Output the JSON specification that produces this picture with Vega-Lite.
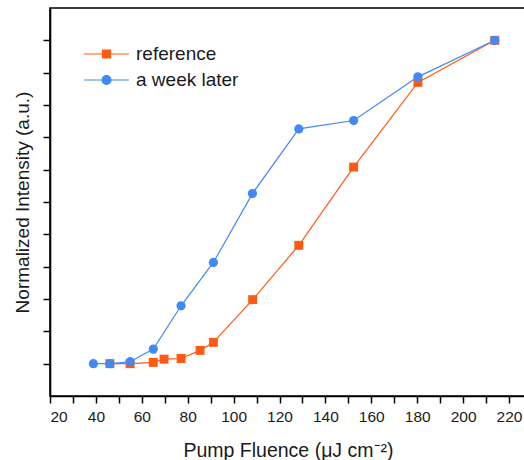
{
  "$schema": "https://vega.github.io/schema/vega-lite/v6.json",
  "autosize": "none",
  "width": 476,
  "height": 388,
  "padding": {"left": 50, "top": 8, "right": 0, "bottom": 64},
  "background": "white",
  "config": {
    "view": {"stroke": "black", "strokeWidth": 1.6},
    "font": "Liberation Sans"
  },
  "data": {
    "values": [
      {"fluence": 46.1, "intensity": 0.0, "series": "reference"},
      {"fluence": 54.9, "intensity": 0.0, "series": "reference"},
      {"fluence": 65.0, "intensity": 0.004, "series": "reference"},
      {"fluence": 69.7, "intensity": 0.014, "series": "reference"},
      {"fluence": 77.1, "intensity": 0.016, "series": "reference"},
      {"fluence": 85.4, "intensity": 0.041, "series": "reference"},
      {"fluence": 91.2, "intensity": 0.066, "series": "reference"},
      {"fluence": 108.3, "intensity": 0.198, "series": "reference"},
      {"fluence": 128.4, "intensity": 0.366, "series": "reference"},
      {"fluence": 152.3, "intensity": 0.608, "series": "reference"},
      {"fluence": 180.3, "intensity": 0.870, "series": "reference"},
      {"fluence": 213.8, "intensity": 1.0, "series": "reference"},
      {"fluence": 38.9, "intensity": 0.0, "series": "a week later"},
      {"fluence": 46.1, "intensity": 0.0, "series": "a week later"},
      {"fluence": 54.9, "intensity": 0.006, "series": "a week later"},
      {"fluence": 65.0, "intensity": 0.045, "series": "a week later"},
      {"fluence": 77.1, "intensity": 0.179, "series": "a week later"},
      {"fluence": 91.2, "intensity": 0.313, "series": "a week later"},
      {"fluence": 108.2, "intensity": 0.526, "series": "a week later"},
      {"fluence": 128.4, "intensity": 0.726, "series": "a week later"},
      {"fluence": 152.3, "intensity": 0.752, "series": "a week later"},
      {"fluence": 180.3, "intensity": 0.887, "series": "a week later"},
      {"fluence": 213.8, "intensity": 1.0, "series": "a week later"}
    ]
  },
  "encoding": {
    "x": {
      "field": "fluence", "type": "quantitative",
      "scale": {"domain": [20, 227.4], "nice": false, "zero": false},
      "axis": {
        "title": "Pump Fluence (μJ cm⁻²)",
        "values": [20,30,40,50,60,70,80,90,100,110,120,130,140,150,160,170,180,190,200,210,220],
        "labelExpr": "datum.value % 20 === 0 ? datum.label : ''",
        "grid": false,
        "domainColor": "black", "domainWidth": 1.6,
        "tickColor": "black", "tickWidth": 1.5, "tickSize": 7,
        "labelFontSize": 15.5, "labelColor": "#1a1a1a", "labelPadding": 6,
        "labelFont": "Liberation Sans",
        "titleFont": "Liberation Sans", "titleFontSize": 19.5, "titleFontWeight": "normal",
        "titleColor": "#1a1a1a", "titlePadding": 17,
        "encode": {"ticks": {"update": {"y2": {"signal": "datum.value % 20 === 0 ? 7 : 4"}}}}
      }
    },
    "y": {
      "field": "intensity", "type": "quantitative",
      "scale": {"domain": [-0.1, 1.1], "nice": false, "zero": false},
      "axis": {
        "title": "Normalized Intensity (a.u.)",
        "values": [0,0.1,0.2,0.3,0.4,0.5,0.6,0.7,0.8,0.9,1.0],
        "labels": false,
        "grid": false,
        "domainColor": "black", "domainWidth": 1.6,
        "tickColor": "black", "tickWidth": 1.5, "tickSize": 7,
        "titleFont": "Liberation Sans", "titleFontSize": 19, "titleFontWeight": "normal",
        "titleColor": "#1a1a1a", "titlePadding": 10,
        "encode": {"ticks": {"update": {"x2": {"signal": "Math.round(datum.value*10) % 2 === 0 ? -7 : -4"}}}}
      }
    },
    "color": {
      "field": "series", "type": "nominal",
      "scale": {"domain": ["reference", "a week later"], "range": ["#FF5A14", "#4189F5"]},
      "legend": {
        "title": null,
        "orient": "none",
        "legendX": 47,
        "legendY": 36.5,
        "padding": 0,
        "symbolSize": 100,
        "labelOffset": 20,
        "labelFontSize": 19,
        "labelFont": "Liberation Sans",
        "labelColor": "#1a1a1a",
        "rowPadding": 6,
        "encode": {
          "symbols": {
            "update": {
              "shape": {"signal": "datum.value === 'reference' ? 'M-4.5,0H4.5M-0.8,-0.8H0.8V0.8H-0.8Z' : 'M-4.5,0H4.5M0.9,0A0.9,0.9,0,1,1,-0.9,0A0.9,0.9,0,1,1,0.9,0Z'"},
              "fill": {"signal": "scale('color', datum.value)"},
              "stroke": {"signal": "scale('color', datum.value)"},
              "strokeWidth": {"value": 1.2},
              "opacity": {"value": 1},
              "fillOpacity": {"value": 1},
              "strokeOpacity": {"value": 1}
            }
          }
        }
      }
    }
  },
  "layer": [
    {
      "mark": {"type": "line", "strokeWidth": 1.2},
      "encoding": {"detail": {"field": "series"}}
    },
    {
      "transform": [{"filter": "datum.series === 'reference'"}],
      "mark": {"type": "point", "shape": "square", "filled": true, "opacity": 1, "size": 80}
    },
    {
      "transform": [{"filter": "datum.series === 'a week later'"}],
      "mark": {"type": "point", "shape": "circle", "filled": true, "opacity": 1, "size": 85}
    }
  ]
}
